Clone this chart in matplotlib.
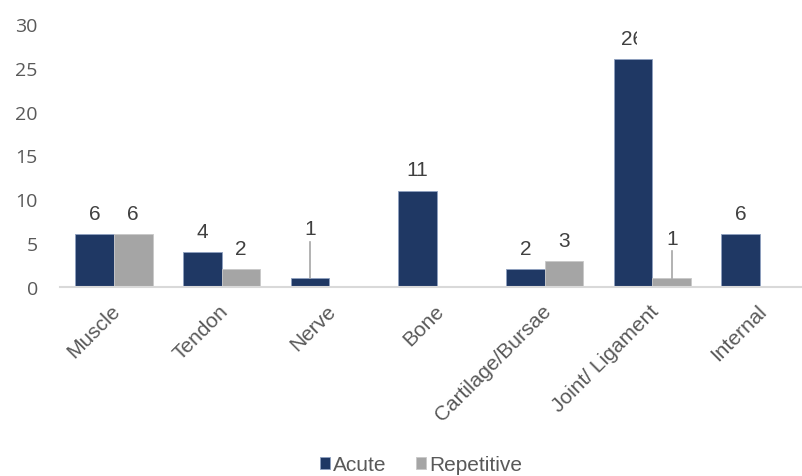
import matplotlib
matplotlib.use("Agg")
import matplotlib.pyplot as plt
import numpy as np
from matplotlib.transforms import Bbox, TransformedBbox, ScaledTranslation

categories = ["Muscle", "Tendon", "Nerve", "Bone", "Cartilage/Bursae", "Joint/ Ligament", "Internal"]
acute = [6, 4, 1, 11, 2, 26, 6]
repetitive = [6, 2, 0, 0, 3, 1, 0]
yticks = [0, 5, 10, 15, 20, 25, 30]

c_acute = "#1F3864"
c_rep = "#A5A5A5"
txt = "#404040"
tick_c = "#595959"
FS = 15

plt.rcParams['font.family'] = ['Liberation Sans', 'DejaVu Sans']

fig = plt.figure(figsize=(8.02, 4.77), dpi=100)
ax = fig.add_axes([60/802, 189/477, 754/802, 263/477])

x = np.arange(len(categories))
w = 0.36
b1 = ax.bar(x - w/2, acute, w, color=c_acute, edgecolor="#8EA0C0", linewidth=0.6, label="Acute")
reps_x = [xi for xi, v in zip(x, repetitive) if v > 0]
reps_v = [v for v in repetitive if v > 0]
b2 = ax.bar(np.array(reps_x) + w/2, reps_v, w, color=c_rep, edgecolor="#C8C8C8", linewidth=0.6, label="Repetitive")

ax.set_xlim(-0.5, 6.5)
ax.set_ylim(0, 30)
ax.set_yticks(yticks)
ax.set_yticklabels([str(t) for t in yticks], fontsize=14, color=tick_c,
                   family=['Open Sans', 'DejaVu Sans'])
ax.tick_params(axis='y', length=0, pad=16)
ax.tick_params(axis='x', length=0, pad=10)
ax.set_xticks(x)
ax.set_xticklabels(categories, rotation=45, ha='right', va='top', rotation_mode='anchor',
                   fontsize=FS, color=tick_c)
shift = ScaledTranslation(-3/100, 0, fig.dpi_scale_trans)
for lab in ax.get_xticklabels():
    lab.set_transform(lab.get_transform() + shift)
for s in ['top', 'right', 'left']:
    ax.spines[s].set_visible(False)
ax.spines['bottom'].set_color("#D9D9D9")
ax.spines['bottom'].set_linewidth(1.5)

# data labels
def label(xp, v, text_y=None, leader_top=None, clip=None):
    ty = v if text_y is None else text_y
    t = ax.annotate(str(v), (xp, ty), xytext=(0, 8), textcoords='offset points',
                    ha='center', va='bottom', fontsize=FS, color=txt)
    if leader_top is not None:
        ax.plot([xp, xp], [v, leader_top], color="#A6A6A6", lw=1.2)
    if clip is not None:
        t.set_clip_box(TransformedBbox(Bbox([[-0.5, 0], [clip, 40]]), ax.transData))
        t.set_clip_on(True)

for i, v in enumerate(acute):
    xp = x[i] - w/2
    if categories[i] == "Nerve":
        label(xp, v, text_y=4.3, leader_top=5.1)
    elif v == 26:
        label(xp, v, clip=4.857)
    else:
        label(xp, v)
for i, v in enumerate(repetitive):
    if v <= 0:
        continue
    xp = x[i] + w/2
    if categories[i] == "Joint/ Ligament":
        label(xp, v, text_y=3.2, leader_top=4.1)
    else:
        label(xp, v)

leg = fig.legend(handles=[b1, b2], labels=["Acute", "Repetitive"], loc='center',
                 bbox_to_anchor=(421/802, 1 - 466/477), ncol=2, frameon=False,
                 fontsize=FS, handlelength=0.5, handleheight=0.5, handletextpad=0.15,
                 columnspacing=1.4)
for t in leg.get_texts():
    t.set_color(tick_c)

fig.savefig("out.png", dpi=100)
